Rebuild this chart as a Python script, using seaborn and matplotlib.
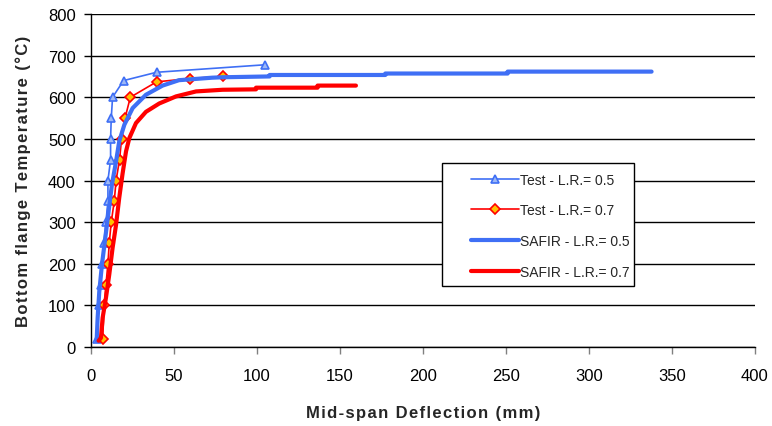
import pandas as pd
import matplotlib.pyplot as plt
import matplotlib.patches as mpatches
import seaborn as sns

# Test - L.R. = 0.5
test05_x = [3.4, 4.6, 6.0, 6.6, 7.8, 9.0, 10.2, 10.2, 11.8, 11.8, 12.2, 13.0, 19.6, 39.5, 104.8]
test05_y = [20, 100, 150, 200, 250, 300, 350, 400, 450, 500, 550, 600, 640, 660, 678]

# Test - L.R. = 0.7
test07_x = [7.0, 8.0, 9.0, 10.2, 11.0, 12.2, 14.0, 15.1, 17.2, 18.4, 20.5, 23.7, 39.5, 59.6, 79.3]
test07_y = [20, 100, 150, 200, 250, 300, 350, 400, 450, 500, 550, 600, 637, 645, 650]

# SAFIR - L.R. = 0.5
safir05_x = [3.4, 4.0, 5.0, 6.6, 8.6, 10.6, 12.6, 15.1, 17.0, 20.1, 25.1, 33.1, 43.1, 53.0,
             73.0, 79.0, 107.6, 107.6, 177.3, 177.3, 251.0, 251.0, 337.7]
safir05_y = [15, 70, 134, 198, 262, 326, 390, 446, 494, 534, 574, 606, 628, 641,
             647, 648, 650, 653.5, 653.5, 657, 657, 661.6, 661.6]

# SAFIR - L.R. = 0.7
safir07_x = [4.6, 6.0, 7.0, 9.0, 11.0, 13.0, 15.1, 17.0, 19.0, 21.1, 23.1, 27.1, 33.1, 41.1,
             51.2, 63.3, 79.3, 99.4, 99.4, 136.5, 136.5, 159.6]
safir07_y = [15, 22, 70, 118, 174, 238, 294, 358, 416, 470, 502, 538, 565, 585,
             602, 614, 618, 619, 623, 623, 628, 628]

sns.set_theme(style="white")
plt.rcParams["font.family"] = ["Liberation Sans", "DejaVu Sans"]

blue = "#3F6FF5"
red = "#FF0000"

fig = plt.figure(figsize=(7.72, 4.27), dpi=100)
ax = fig.add_axes([91 / 772, 1 - 348 / 427, 664 / 772, 333 / 427])

sns.lineplot(x=test05_x, y=test05_y, sort=False, estimator=None, ax=ax, color=blue,
             linewidth=1.2, marker="^", markersize=6, markerfacecolor="#9DB8F5",
             markeredgecolor=blue, markeredgewidth=1.2, label="Test - L.R.= 0.5")
sns.lineplot(x=test07_x, y=test07_y, sort=False, estimator=None, ax=ax, color=red,
             linewidth=1.2, marker="D", markersize=5, markerfacecolor="#FFC000",
             markeredgecolor=red, markeredgewidth=1.2, label="Test - L.R.= 0.7")
sns.lineplot(x=safir05_x, y=safir05_y, sort=False, estimator=None, ax=ax, color=blue,
             linewidth=3, label="SAFIR - L.R.= 0.5")
sns.lineplot(x=safir07_x, y=safir07_y, sort=False, estimator=None, ax=ax, color=red,
             linewidth=3, label="SAFIR - L.R.= 0.7")

ax.set_xlim(0, 400)
ax.set_ylim(0, 800)
ax.set_xticks(range(0, 401, 50))
ax.set_yticks(range(0, 801, 100))
ax.yaxis.grid(True, color="black", linewidth=1)
ax.xaxis.grid(False)
ax.set_axisbelow(True)
for side in ["top", "right"]:
    ax.spines[side].set_visible(False)
for side in ["left", "bottom"]:
    ax.spines[side].set_color("black")
    ax.spines[side].set_linewidth(1)
ax.tick_params(axis="both", labelsize=12, colors="black", direction="out",
               length=5, width=1, bottom=True, left=True)
ax.tick_params(axis="x", color="gray", pad=10)
ax.tick_params(axis="y", pad=6)

def spaced(s):
    return "\u200a".join(s)

ax.set_xlabel(spaced("Mid-span Deflection (mm)"), fontsize=12, fontweight="bold", labelpad=16)
ax.set_ylabel(spaced("Bottom flange Temperature (\u00b0C)"), fontsize=12, fontweight="bold",
              labelpad=12)

# legend box drawn separately so the entries can sit inset like the original
box = mpatches.Rectangle((0.529, 0.183), 0.289, 0.37, transform=ax.transAxes,
                         facecolor="white", edgecolor="black", linewidth=1, zorder=5)
ax.add_patch(box)
leg = ax.legend(loc="upper left", bbox_to_anchor=(0.556, 0.557), frameon=False,
                fontsize=10, handlelength=3.4, handletextpad=0.1, labelspacing=1.2,
                borderpad=0.3)
leg.set_zorder(6)

fig.savefig("out.png", dpi=100)
plt.close(fig)
